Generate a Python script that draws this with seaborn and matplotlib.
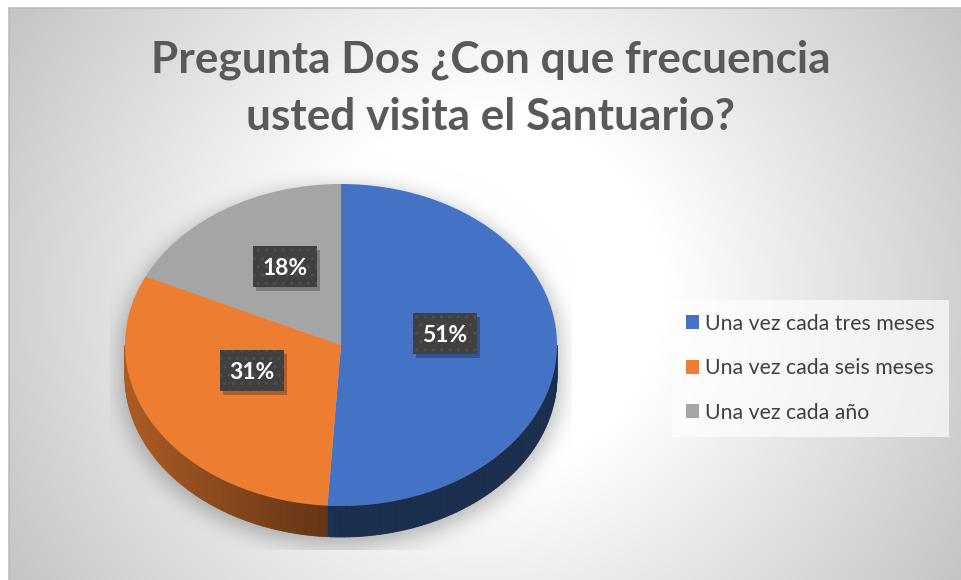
import numpy as np
import matplotlib
matplotlib.use("Agg")
import matplotlib.pyplot as plt
from matplotlib.collections import PolyCollection
from matplotlib.patches import Rectangle
import seaborn as sns

# ---- data ----
categories = ["Una vez cada tres meses", "Una vez cada seis meses", "Una vez cada año"]
shares = [51, 31, 18]
title_lines = ["Pregunta Dos ¿Con que frecuencia", "usted visita el Santuario?"]

sns.set_theme(style="white")
plt.rcParams["font.family"] = ["Lato", "DejaVu Sans"]
plt.rcParams["hatch.linewidth"] = 1.2
palette = sns.color_palette(["#4472C4", "#ED7D31", "#A5A5A5"])

W, H, DPI = 961, 580, 100
fig = plt.figure(figsize=(W / DPI, H / DPI), dpi=DPI, facecolor="white")

# pie geometry in pixels (tilted ellipse + rim depth)
cx, cy, rx, ry, depth_px = 341.0, 345.0, 216.0, 161.0, 31.0
depth = depth_px / ry

def X(px):
    return (px - cx) / rx

def Y(py):
    return (cy - py) / ry

ax = fig.add_axes([0, 0, 1, 1])

# ---- chart area background: radial gradient with soft pie shadow ----
x0, y0 = 9, 8
gx, gy = np.meshgrid(np.arange(x0, W) + 0.5, np.arange(y0, H) + 0.5)
r = np.hypot(gx - 485, gy - 294)
bg = np.clip(255 - 0.157 * np.clip(r - 180, 0, None), 0, 255) / 255.0

# silhouette of the pie, shifted slightly down, then blurred
sy = 6
ex = (gx - cx) / (rx * 1.02)
top = ex ** 2 + ((gy - cy - sy) / (ry * 1.02)) ** 2 <= 1
bot = ex ** 2 + ((gy - cy - sy - depth_px) / (ry * 1.02)) ** 2 <= 1
mid = (np.abs(ex) <= 1) & (gy >= cy + sy) & (gy <= cy + sy + depth_px)
mask = (top | bot | mid).astype(float)
k = np.arange(-30, 31)
kern = np.exp(-0.5 * (k / 10.0) ** 2)
kern /= kern.sum()
mask = np.apply_along_axis(lambda v: np.convolve(v, kern, mode="same"), 1, mask)
mask = np.apply_along_axis(lambda v: np.convolve(v, kern, mode="same"), 0, mask)
clip = (gx >= 110) & (gx <= 572) & (gy <= 550)
bg = bg * (1 - 0.26 * mask * clip)
ax.imshow(np.dstack([bg, bg, bg]), extent=(X(x0), X(W), Y(H), Y(y0)),
          aspect="auto", interpolation="bilinear", zorder=0)
ax.plot([X(x0), X(x0)], [Y(H), Y(y0)], color="#bcbcbc", lw=1.2, zorder=0.5)
ax.plot([X(x0), X(W)], [Y(y0), Y(y0)], color="#bcbcbc", lw=1.2, zorder=0.5)

# ---- pie top surface ----
wedges, _ = ax.pie(shares, colors=palette, startangle=90, counterclock=False,
                   wedgeprops=dict(linewidth=0, zorder=3))

# ---- front rim of the pie ----
polys, fcols = [], []
for w, col in zip(wedges, palette):
    t = np.linspace(w.theta1, w.theta2, 160)
    for a, b in zip(t[:-1], t[1:]):
        m = np.deg2rad((a + b) / 2)
        if np.sin(m) >= 0:
            continue
        ra, rb = np.deg2rad(a), np.deg2rad(b)
        xa, ya, xb, yb = np.cos(ra), np.sin(ra), np.cos(rb), np.sin(rb)
        polys.append([(xa, ya), (xb, yb), (xb, yb - depth), (xa, ya - depth)])
        xm = np.cos(m)
        shade = 0.40 if xm >= 0 else 0.40 + 0.33 * (-xm)
        fcols.append(tuple(np.array(col) * shade))
rim = PolyCollection(polys, facecolors=fcols, edgecolors=fcols, linewidths=0.6, zorder=2)
ax.add_collection(rim)

ax.set_aspect("auto")
ax.set_xlim(X(0), X(W))
ax.set_ylim(Y(H), Y(0))
ax.axis("off")

# ---- percentage labels in dark dotted boxes ----
bw, bh = 64 / rx, 41 / ry
for w, v in zip(wedges, shares):
    m = np.deg2rad((w.theta1 + w.theta2) / 2)
    lx, ly = 0.48 * np.cos(m), 0.48 * np.sin(m) + 0.085
    ax.add_patch(Rectangle((lx - bw / 2 + 3 / rx, ly - bh / 2 - 4 / ry), bw, bh,
                           fc=(0, 0, 0, 0.25), lw=0, zorder=4))
    ax.add_patch(Rectangle((lx - bw / 2, ly - bh / 2), bw, bh, fc="#404040",
                           ec="#4e4e4e", lw=0, hatch="..", zorder=4.5))
    ax.text(lx, ly, f"{v}%", ha="center", va="center_baseline", fontsize=16.5,
            fontweight="bold", color="white", zorder=5)

# ---- legend ----
leg = ax.legend(wedges, categories, loc="upper left",
                bbox_to_anchor=(672 / W, 1 - 300 / H), bbox_transform=fig.transFigure,
                borderaxespad=0, frameon=True, fancybox=False, framealpha=0.65,
                facecolor="white", edgecolor="none", fontsize=15.3,
                handlelength=0.62, handleheight=0.62, handletextpad=0.3,
                labelspacing=1.15, borderpad=0.65, labelcolor="#404040")
leg.set_zorder(6)

# ---- title ----
fig.text(491 / W, 1 - 60 / H, title_lines[0], ha="center", va="center",
         fontsize=31.8, fontweight="bold", color="#595959")
fig.text(491 / W, 1 - 117 / H, title_lines[1], ha="center", va="center",
         fontsize=31.8, fontweight="bold", color="#595959")

fig.savefig("out.png", dpi=DPI, facecolor="white")
